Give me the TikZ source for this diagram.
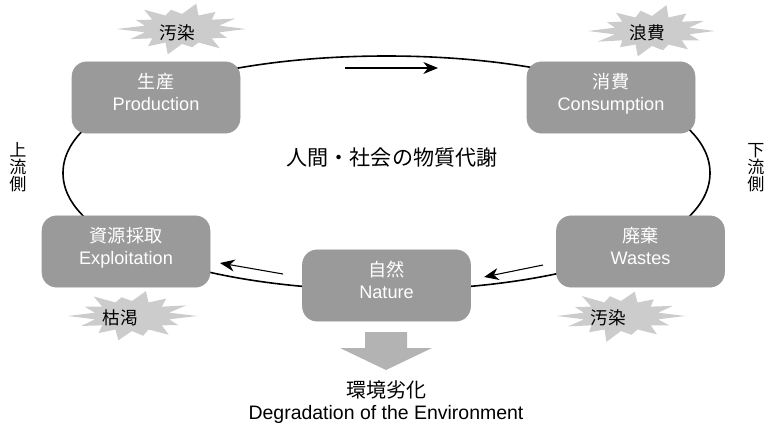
\documentclass[tikz,border=0pt]{standalone}
\usepackage{fontspec}
\setmainfont{Liberation Sans}
\newfontfamily\jp{Noto Sans CJK JP}
\usetikzlibrary{arrows.meta}

\definecolor{boxgray}{HTML}{9A9A9A}
\definecolor{burstgray}{HTML}{CCCCCC}
\definecolor{downgray}{HTML}{B3B3B3}

\tikzset{
  stage/.style={rectangle, rounded corners=11pt, fill=boxgray, draw=boxgray,
    minimum width=126pt, minimum height=53.5pt, text=white, align=center,
    font=\fontsize{13.6}{16.5}\selectfont, inner sep=0pt,
    text height=27pt, text depth=7.2pt},
  bursttext/.style={font=\jp\fontsize{13.2}{15}\selectfont, inner sep=0pt},
  cycleline/.style={line width=1.2pt, draw=black},
  flow/.style={line width=0.8pt, -{Stealth[length=11pt, width=9pt, inset=3.5pt]}},
  sidetext/.style={font=\jp\fontsize{12.8}{12.8}\selectfont, align=center, inner sep=0pt},
}

% jagged burst: #1 centre, #2 relative lengths of its 14 spikes
\newcommand\burstat[2]{%
  \begin{scope}[shift={#1}]
    \fill[burstgray] ({-180/14}:38 and 15)
      \foreach \f [count=\k from 0] in {#2} {
        -- ({\k*360/14}:{64*\f} and {26*\f}) -- ({\k*360/14+180/14}:38 and 15)
      } -- cycle;
  \end{scope}}

\begin{document}
\begin{tikzpicture}[x=0.75pt, y=-0.75pt]
\useasboundingbox (0,0) rectangle (766,422);

% material cycle of society
\draw[cycleline] (63,173) .. controls (63,103) and (208.5,56) .. (386.5,56)
  .. controls (564.5,56) and (710,103) .. (710,173)
  .. controls (710,243) and (564.5,290) .. (386.5,290)
  .. controls (208.5,290) and (63,243) .. (63,173) -- cycle;

% stages of the cycle
\node[stage] (prod) at (156,97.5) {{\jp 生産}\\Production};
\node[stage] (cons) at (611,97.5) {{\jp 消費}\\Consumption};
\node[stage] (expl) at (126,251.5) {{\jp 資源採取}\\Exploitation};
\node[stage] (natu) at (386.5,285.5) {{\jp 自然}\\Nature};
\node[stage] (wast) at (640.5,251.5) {{\jp 廃棄}\\Wastes};

% direction of the flow
\coordinate (t1) at (345,68);  \coordinate (t2) at (438,68);
\coordinate (l1) at (283,274); \coordinate (l2) at (220,263);
\coordinate (r1) at (543,265); \coordinate (r2) at (484,277);
\draw[flow] (t1) -- (t2);
\draw[flow] (l1) -- (l2);
\draw[flow] (r1) -- (r2);

% burdens on the environment
\burstat{(182,29)}{1.0,0.78,0.95,0.72,1.0,0.85,0.9,1.02,0.8,0.95,0.76,1.0,0.84,0.92}
\node[bursttext] (b1t) at (177,33) {汚染};
\burstat{(652,31)}{0.98,0.82,0.9,0.76,1.0,0.8,0.94,1.0,0.78,0.9,0.8,1.02,0.86,0.9}
\node[bursttext] (b2t) at (647,33) {浪費};
\burstat{(132,316)}{1.02,0.8,0.92,0.78,0.96,0.84,0.88,1.0,0.82,0.96,0.74,0.98,0.86,0.94}
\node[bursttext] (b3t) at (120,318) {枯渇};
\burstat{(621,316)}{1.0,0.84,0.9,0.74,1.02,0.8,0.92,1.0,0.8,0.98,0.78,0.96,0.82,0.9}
\node[bursttext] (b4t) at (608,318) {汚染};

% labels
\node[font=\jp\fontsize{15.8}{17}\selectfont] (centre) at (392,158) {人間・社会の物質代謝};
\node[sidetext] (up) at (18,167) {上\\流\\側};
\node[sidetext] (down) at (756,168) {下\\流\\側};

% degradation
\fill[downgray] (365,332) -- (407,332) -- (407,348) -- (432,348) -- (386,370)
  -- (340,348) -- (365,348) -- cycle;
\node[font=\jp\fontsize{15}{17}\selectfont] (deg) at (386,390) {環境劣化};
\node[font=\fontsize{14.6}{17}\selectfont, anchor=base] (degen) at (386,419) {Degradation of the Environment};
\end{tikzpicture}
\end{document}
